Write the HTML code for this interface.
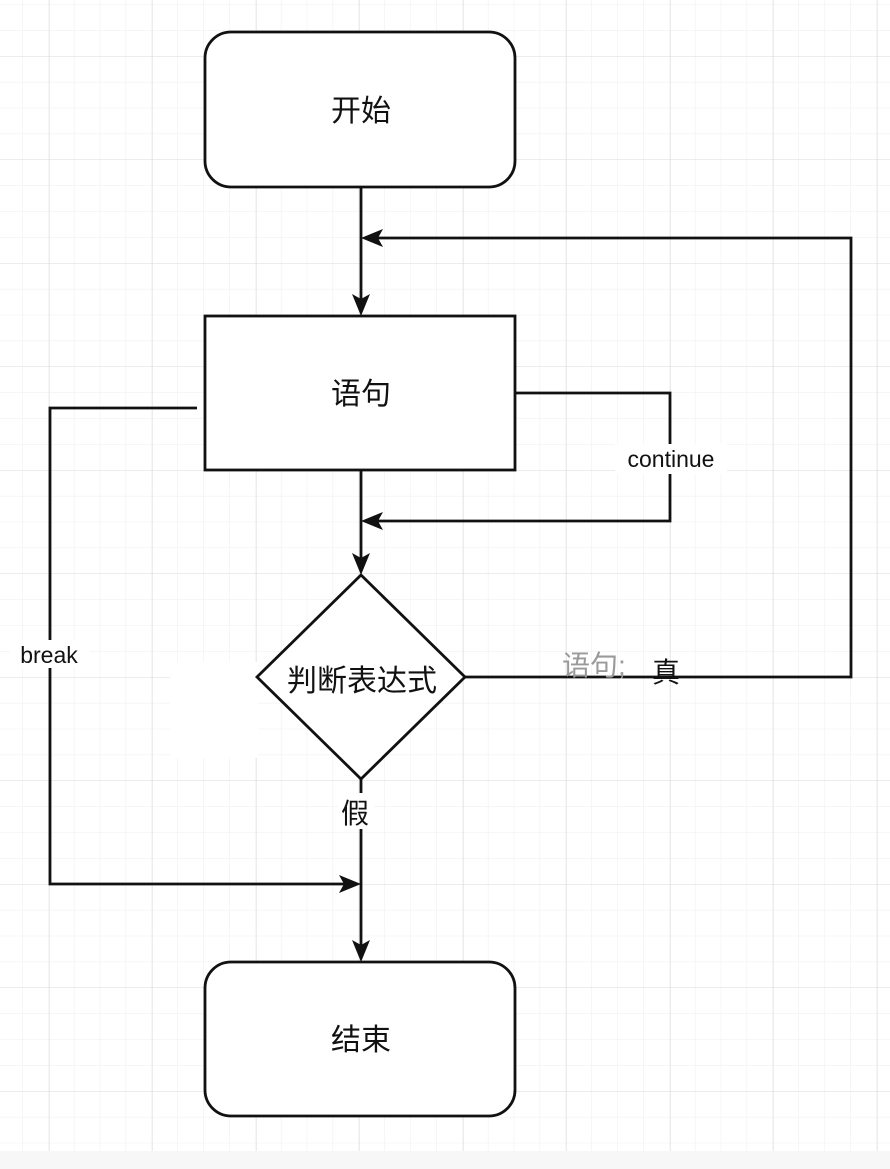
<!DOCTYPE html>
<html><head><meta charset="utf-8"><style>
html,body{margin:0;padding:0;background:#fff;}
svg{display:block;}
text{font-family:"Liberation Sans","Noto Sans CJK SC",sans-serif;}
</style></head><body>
<svg width="890" height="1169" viewBox="0 0 890 1169" xmlns="http://www.w3.org/2000/svg">
<defs>
<pattern id="minor" x="-3.75" y="4.25" width="25.875" height="25.875" patternUnits="userSpaceOnUse">
<path d="M0 0H25.875M0 0V25.875" fill="none" stroke="#eeeeee" stroke-width="1"/>
</pattern>
<pattern id="major" x="49" y="56" width="103.5" height="103.5" patternUnits="userSpaceOnUse">
<path d="M0 0H103.5M0 0V103.5" fill="none" stroke="#dadada" stroke-width="1"/>
</pattern>
</defs>
<rect width="890" height="1151" fill="url(#minor)"/>
<rect width="890" height="1151" fill="url(#major)"/>
<rect x="170" y="662" width="88" height="96" fill="#fff"/>
<rect x="0" y="1151" width="890" height="18" fill="#f7f7f7"/>

<g fill="none" stroke="#111" stroke-width="2.8">
<line x1="361" y1="187" x2="361" y2="300"/>
<polyline points="465,677 851,677 851,238 378,238"/>
<polyline points="515,393 670,393 670,521 378,521"/>
<line x1="361" y1="470" x2="361" y2="558"/>
<polyline points="197,408 50,408 50,884 344,884"/>
<line x1="361" y1="779" x2="361" y2="946"/>
</g>
<g fill="#111">
<path d="M361,316 L352,294 L361,299 L370,294 Z"/>
<path d="M361,575 L352,553 L361,558 L370,553 Z"/>
<path d="M361,962 L352,940 L361,945 L370,940 Z"/>
<path d="M361,238 L383,229 L378,238 L383,247 Z"/>
<path d="M361,521 L383,512 L378,521 L383,530 Z"/>
<path d="M361,884 L339,875 L344,884 L339,893 Z"/>
</g>

<g fill="#fff" stroke="#111" stroke-width="2.8">
<rect x="205" y="32" width="310" height="155" rx="26"/>
<rect x="205" y="316" width="310" height="154"/>
<polygon points="361,575 465,677 361,779 257,677"/>
<rect x="205" y="962" width="310" height="154" rx="26"/>
</g>

<rect x="10" y="640" width="80" height="28" fill="#fff"/>
<rect x="615" y="444" width="112" height="30" fill="#fff"/>
<rect x="338" y="793" width="36" height="36" fill="#fff"/>

<g fill="#111" font-size="30" text-anchor="middle">
<text x="361" y="121">开始</text>
<text x="361" y="404">语句</text>
<text x="362" y="691" font-size="30">判断表达式</text>
<text x="361" y="1050">结束</text>
<text x="355" y="823" font-size="28">假</text>
<text x="666" y="682" font-size="28">真</text>
</g>
<text x="562" y="675" font-size="28" fill="#9a9a9a" font-family="Liberation Sans,Noto Sans CJK SC,sans-serif">语句;</text>
<text x="49" y="663" font-size="23" fill="#111" text-anchor="middle">break</text>
<text x="671" y="467" font-size="23" fill="#111" text-anchor="middle">continue</text>
</svg>
</body></html>
